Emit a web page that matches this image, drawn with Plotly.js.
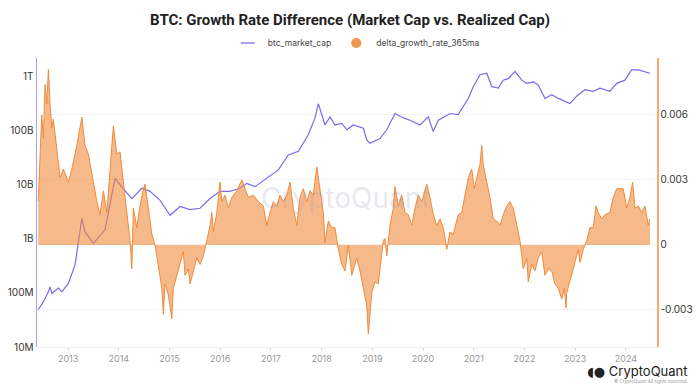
<!DOCTYPE html>
<html><head><meta charset="utf-8">
<script src="https://cdn.plot.ly/plotly-3.0.1.min.js"></script>
<style>html,body{margin:0;padding:0;background:#fff}#chart{width:700px;height:386px}</style>
</head><body><div id="chart"></div>
<script>
const capDates = ['2012-05-31','2012-07-07','2012-08-12','2012-08-24','2012-09-06','2012-10-23','2012-11-17','2013-01-03','2013-02-20','2013-04-10','2013-05-03','2013-07-02','2013-09-24','2013-12-05','2014-01-10','2014-04-05','2014-06-16','2014-08-14','2014-10-25','2015-01-05','2015-03-18','2015-05-29','2015-08-09','2015-10-20','2015-12-31','2016-03-12','2016-05-23','2016-07-11','2016-09-08','2016-12-13','2017-02-23','2017-05-06','2017-07-17','2017-09-27','2017-11-14','2017-12-08','2018-01-25','2018-03-02','2018-04-07','2018-05-26','2018-07-01','2018-08-17','2018-10-28','2018-11-22','2018-12-15','2019-02-25','2019-04-15','2019-06-13','2019-08-12','2019-09-29','2019-12-10','2020-02-08','2020-03-14','2020-04-20','2020-07-13','2020-09-10','2020-10-10','2020-11-22','2020-12-28','2021-02-14','2021-04-04','2021-05-10','2021-06-26','2021-08-01','2021-09-06','2021-10-24','2021-12-12','2022-01-17','2022-03-05','2022-04-10','2022-05-28','2022-07-16','2022-09-01','2022-10-19','2022-11-24','2023-01-11','2023-03-12','2023-05-11','2023-06-28','2023-09-08','2023-10-27','2023-12-25','2024-02-11','2024-03-30','2024-05-05','2024-06-22'];
const capValues = [4.9e7,6.9e7,1.05e8,1.3e8,9.8e7,1.23e8,1.05e8,1.5e8,3.3e8,2.4e9,1.35e9,8.3e8,1.48e9,1.32e10,1.0e10,5.6e9,8.7e9,7.6e9,5.2e9,2.75e9,4.0e9,3.5e9,3.7e9,5.6e9,7.6e9,7.6e9,8.7e9,1.07e10,9.3e9,1.41e10,1.9e10,3.6e10,4.2e10,8.5e10,1.74e11,3.2e11,1.29e11,1.82e11,1.29e11,1.38e11,1.05e11,1.29e11,1.12e11,6.8e10,5.9e10,7.2e10,1.05e11,2.1e11,1.74e11,1.58e11,1.29e11,1.82e11,9.8e10,1.58e11,2.1e11,2.0e11,2.6e11,3.98e11,6.6e11,1.1e12,1.17e12,6.6e11,6.2e11,8.7e11,9.3e11,1.26e12,8.7e11,7.6e11,8.1e11,7.1e11,4.0e11,4.7e11,4.0e11,3.5e11,3.2e11,4.4e11,5.8e11,5.4e11,6.2e11,5.4e11,7.6e11,8.7e11,1.35e12,1.35e12,1.26e12,1.17e12];

const deltaDates = ['2012-05-31','2012-06-12','2012-06-25','2012-07-07','2012-07-19','2012-08-01','2012-08-12','2012-08-24','2012-09-06','2012-09-17','2012-10-12','2012-11-04','2012-11-28','2013-01-03','2013-01-28','2013-03-05','2013-04-10','2013-05-03','2013-05-27','2013-07-02','2013-07-27','2013-08-19','2013-09-12','2013-10-07','2013-10-30','2013-11-23','2013-12-18','2014-01-10','2014-02-03','2014-02-28','2014-03-23','2014-04-05','2014-04-16','2014-05-11','2014-06-03','2014-06-27','2014-07-09','2014-08-02','2014-08-27','2014-09-19','2014-10-13','2014-11-07','2014-11-18','2014-11-30','2014-12-24','2015-01-18','2015-01-29','2015-02-23','2015-03-18','2015-04-11','2015-04-23','2015-05-17','2015-05-29','2015-06-22','2015-07-17','2015-08-09','2015-09-02','2015-09-27','2015-10-20','2015-11-02','2015-11-13','2015-12-08','2015-12-31','2016-01-13','2016-02-05','2016-02-29','2016-03-25','2016-04-30','2016-06-05','2016-06-28','2016-07-22','2016-08-27','2016-10-02','2016-11-07','2016-12-02','2016-12-25','2017-01-18','2017-02-12','2017-03-07','2017-03-31','2017-04-25','2017-05-18','2017-06-11','2017-07-06','2017-07-29','2017-08-22','2017-09-16','2017-10-09','2017-11-02','2017-11-27','2017-12-20','2018-01-13','2018-01-25','2018-02-18','2018-03-15','2018-04-07','2018-05-01','2018-05-26','2018-06-18','2018-07-12','2018-08-06','2018-09-11','2018-10-04','2018-10-28','2018-11-22','2018-12-03','2018-12-28','2019-01-20','2019-02-13','2019-02-25','2019-03-21','2019-04-02','2019-04-15','2019-05-08','2019-06-01','2019-06-13','2019-07-07','2019-08-01','2019-08-24','2019-09-17','2019-10-12','2019-11-04','2019-11-28','2019-12-23','2020-01-15','2020-01-28','2020-02-20','2020-03-15','2020-04-09','2020-05-02','2020-05-26','2020-06-20','2020-07-13','2020-08-06','2020-09-11','2020-10-06','2020-10-29','2020-11-22','2020-12-17','2021-01-04','2021-01-22','2021-02-14','2021-02-27','2021-03-10','2021-04-04','2021-04-27','2021-05-21','2021-06-15','2021-07-08','2021-08-01','2021-08-26','2021-09-18','2021-10-12','2021-11-06','2021-11-29','2021-12-12','2021-12-23','2022-01-17','2022-01-28','2022-02-22','2022-03-17','2022-04-10','2022-05-05','2022-05-28','2022-06-21','2022-07-16','2022-08-08','2022-09-01','2022-09-26','2022-10-15','2022-10-27','2022-11-01','2022-11-24','2022-12-18','2023-01-11','2023-01-23','2023-02-04','2023-02-28','2023-03-25','2023-04-17','2023-05-11','2023-05-31','2023-06-16','2023-07-11','2023-08-03','2023-09-08','2023-10-02','2023-10-27','2023-11-19','2023-12-13','2024-01-07','2024-01-30','2024-02-19','2024-03-06','2024-03-30','2024-04-24','2024-05-17','2024-06-10','2024-06-22'];
const deltaValues = [0.0020,0.0037,0.0060,0.0049,0.0074,0.0065,0.0081,0.0065,0.0054,0.0058,0.0043,0.0031,0.0035,0.0029,0.0035,0.0046,0.0059,0.0046,0.0042,0.0028,0.0020,0.0014,0.0025,0.0015,0.0037,0.0055,0.0042,0.0043,0.0029,0.0015,0.0002,-0.0011,0.0017,0.0008,0.0018,0.0026,0.0028,0.0017,0.0005,0.0000,-0.0011,-0.0020,-0.0032,-0.0018,-0.0023,-0.0034,-0.0020,-0.0014,-0.0009,-0.0003,-0.0014,-0.0011,-0.0018,-0.0012,-0.0006,-0.0009,-0.0005,0.0002,0.0009,0.0015,0.0006,0.0015,0.0029,0.0020,0.0023,0.0017,0.0022,0.0025,0.0030,0.0026,0.0022,0.0023,0.0020,0.0018,0.0009,0.0015,0.0020,0.0018,0.0023,0.0020,0.0023,0.0029,0.0017,0.0009,0.0022,0.0026,0.0020,0.0025,0.0023,0.0036,0.0026,0.0015,0.0001,0.0011,0.0008,0.0008,-0.0002,-0.0009,-0.0012,0.0000,-0.0014,-0.0006,-0.0012,-0.0020,-0.0028,-0.0041,-0.0022,-0.0017,-0.0018,-0.0011,0.0002,0.0003,-0.0005,0.0009,0.0017,0.0027,0.0018,0.0023,0.0015,0.0014,0.0009,0.0017,0.0023,0.0020,0.0026,0.0028,0.0022,0.0014,0.0009,0.0012,0.0008,-0.0002,0.0006,0.0005,0.0014,0.0015,0.0023,0.0031,0.0035,0.0026,0.0031,0.0037,0.0046,0.0037,0.0029,0.0022,0.0012,0.0011,0.0009,0.0014,0.0018,0.0020,0.0017,0.0009,0.0002,-0.0005,-0.0011,-0.0006,-0.0017,-0.0009,-0.0012,-0.0006,-0.0003,-0.0014,-0.0011,-0.0012,-0.0018,-0.0020,-0.0025,-0.0020,-0.0029,-0.0022,-0.0017,-0.0011,-0.0005,-0.0002,-0.0008,-0.0002,0.0002,0.0008,0.0008,0.0018,0.0015,0.0012,0.0014,0.0015,0.0022,0.0026,0.0026,0.0026,0.0017,0.0022,0.0029,0.0017,0.0018,0.0015,0.0018,0.0009,0.0012];

const capTickVals = [1e7,1e8,1e9,1e10,1e11,1e12];
const capTickText = ['10M','100M','1B','10B','100B','1T'];
const deltaTickVals = [-0.003,0,0.003,0.006];
const deltaTickText = ['-0.003','0','0.003','0.006'];
const yearTickVals = ['2013-01-01','2014-01-01','2015-01-01','2016-01-01','2017-01-01','2018-01-01','2019-01-01','2020-01-01','2021-01-01','2022-01-01','2023-01-01','2024-01-01'];
const yearTickText = ['2013','2014','2015','2016','2017','2018','2019','2020','2021','2022','2023','2024'];

const PURPLE = 'rgb(123,104,238)';
const ORANGE = 'rgb(240,138,58)';
const FONT = 'Inter, Roboto, sans-serif';

const traces = [
  {x: capDates, y: capValues, type: 'scatter', mode: 'lines', yaxis: 'y',
   line: {color: PURPLE, width: 1.2}, showlegend: false, hoverinfo: 'skip'},
  {x: deltaDates, y: deltaValues, type: 'scatter', mode: 'lines', yaxis: 'y2',
   fill: 'tozeroy', fillcolor: 'rgba(240,140,60,0.6)',
   line: {color: ORANGE, width: 1}, showlegend: false, hoverinfo: 'skip'},
  {x: [null], y: [null], type: 'scatter', mode: 'markers', name: 'btc_market_cap',
   marker: {symbol: 'line-ew', size: 10, line: {color: 'rgb(170,160,245)', width: 2}}},
  {x: [null], y: [null], type: 'scatter', mode: 'markers', name: 'delta_growth_rate_365ma', yaxis: 'y2',
   marker: {symbol: 'circle', size: 10, color: 'rgb(240,150,80)'}}
];

const layout = {
  width: 700, height: 386,
  margin: {l: 37, r: 43, t: 58, b: 39},
  paper_bgcolor: '#fff', plot_bgcolor: '#fff',
  font: {family: FONT, color: '#333', size: 10},
  title: {text: '<b>BTC: Growth Rate Difference (Market Cap vs. Realized Cap)</b>',
          x: 0.5, xanchor: 'center', y: 1 - 20/386, yanchor: 'middle',
          font: {family: 'Roboto, sans-serif', size: 15, color: '#222'}},
  showlegend: true,
  legend: {orientation: 'h', x: 0.515, xanchor: 'center', y: 1.052, yanchor: 'middle',
           font: {size: 8.5, color: '#444', family: FONT}, itemwidth: 30, bgcolor: 'rgba(0,0,0,0)'},
  xaxis: {type: 'date', range: ['2012-05-22', '2024-08-12'],
          tickvals: yearTickVals, ticktext: yearTickText,
          showgrid: false, zeroline: false, showline: true, linecolor: '#eeeeee', linewidth: 1,
          ticks: 'outside', ticklen: 3, tickcolor: '#dddddd',
          tickfont: {size: 9, color: '#999'}},
  yaxis: {type: 'log', range: [7, 12.35], tickvals: capTickVals, ticktext: capTickText,
          showgrid: false, zeroline: false, showline: true, linecolor: 'rgb(170,160,250)', linewidth: 1.5,
          ticks: '', tickfont: {size: 10, color: '#333'}},
  yaxis2: {overlaying: 'y', side: 'right', range: [-0.00471, 0.00863],
           tickvals: deltaTickVals, ticktext: deltaTickText,
           showgrid: true, gridcolor: '#f2f2f2', gridwidth: 1, zeroline: false,
           showline: true, linecolor: 'rgb(245,170,110)', linewidth: 1.5,
           ticks: '', tickfont: {size: 10, color: '#333'}},
  annotations: [
    {xref: 'paper', yref: 'paper', x: (345-37)/620, y: (347-198)/289, text: 'CryptoQuant',
     showarrow: false, xanchor: 'center', yanchor: 'middle',
     font: {family: FONT, size: 28, color: 'rgba(150,150,175,0.22)'}},
    {xref: 'paper', yref: 'paper', x: (690-37)/620, y: (347-371)/289,
     text: '<span style="font-family:DejaVu Sans">◖●</span> CryptoQuant',
     showarrow: false, xanchor: 'right', yanchor: 'middle',
     font: {family: FONT, size: 13, color: '#222'}},
    {xref: 'paper', yref: 'paper', x: (690-37)/620, y: (347-381)/289, text: '© CryptoQuant All rights reserved.',
     showarrow: false, xanchor: 'right', yanchor: 'middle',
     font: {family: FONT, size: 4.5, color: '#999'}}
  ]
};

Plotly.newPlot('chart', traces, layout, {displayModeBar: false, staticPlot: true});
</script>
</body></html>
